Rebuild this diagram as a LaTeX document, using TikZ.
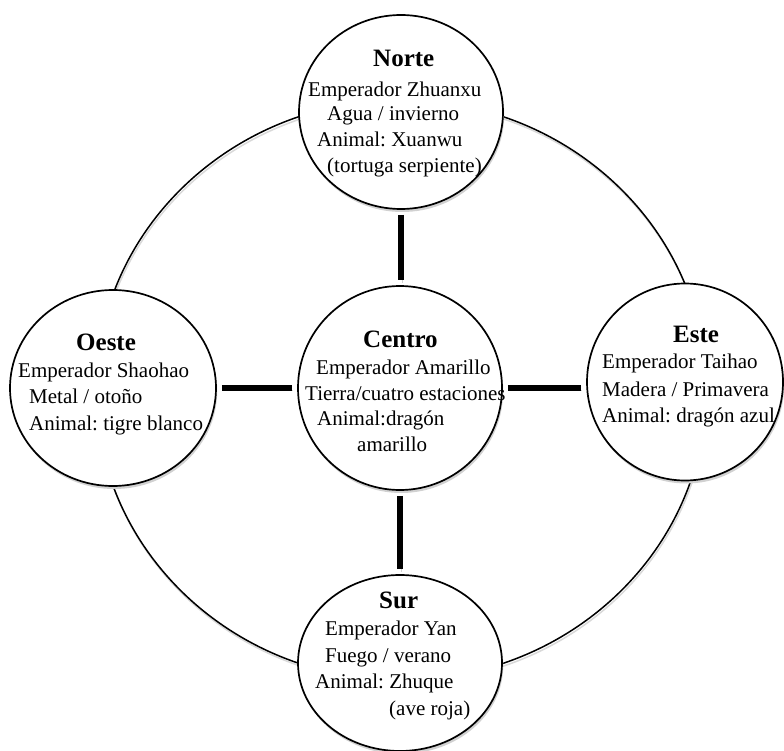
\documentclass[tikz,border=0pt]{standalone}
\usepackage{fontspec}
\setmainfont{Liberation Serif}
\usetikzlibrary{shapes.geometric}
\frenchspacing
\begin{document}
\begin{tikzpicture}[x=1pt,y=-1pt,
  disco/.style={ellipse, draw=black, line width=1.7pt, fill=white, inner sep=0pt,
    preaction={fill=black!18, transform canvas={xshift=1.2pt,yshift=-3pt}}},
  anillostyle/.style={ellipse, draw=black, line width=1.5pt, inner sep=0pt,
    preaction={draw=black!15, transform canvas={xshift=1pt,yshift=-2.5pt}}},
  barra/.style={line width=5.5pt, shorten <=5pt, shorten >=5pt,
    preaction={draw=black!18, transform canvas={xshift=1.2pt,yshift=-2.5pt}}},
  titulo/.style={anchor=base west, inner sep=0pt, font=\fontsize{25}{30}\selectfont\bfseries},
  texto/.style={anchor=base west, inner sep=0pt, font=\fontsize{21}{25}\selectfont}]
\useasboundingbox (0,0) rectangle (784,751);

\node[anillostyle, minimum width=610pt, minimum height=580pt] (anillo) at (401,390) {};

\node[disco, minimum width=204pt, minimum height=194pt] (norte) at (401,112) {};
\node[disco, minimum width=204pt, minimum height=204pt] (centro) at (400,388) {};
\node[disco, minimum width=206pt, minimum height=196pt] (oeste) at (113,388) {};
\node[disco, minimum width=196pt, minimum height=197pt] (este) at (685,382) {};
\node[disco, minimum width=204pt, minimum height=176pt] (sur) at (400,663) {};

\draw[barra] (norte.south) -- (norte.south |- centro.north);
\draw[barra] (centro.south) -- (centro.south |- sur.north);
\draw[barra] (oeste.east |- centro.west) -- (centro.west);
\draw[barra] (centro.east) -- (centro.east -| este.west);

\node[titulo] (nT) at (373,67) {Norte};
\node[texto] (n1) at (308,97) {Emperador Zhuanxu};
\node[texto] (n2) at (327,121) {Agua / invierno};
\node[texto] (n3) at (317,147) {Animal: Xuanwu};
\node[texto] (n4) at (327,173) {(tortuga serpiente)};

\node[titulo] (cT) at (363,347) {Centro};
\node[texto] (c1) at (316,374) {Emperador Amarillo};
\node[texto] (c2) at (305,400) {Tierra/cuatro estaciones};
\node[texto] (c3) at (317,425) {Animal:dragón};
\node[texto] (c4) at (357,451) {amarillo};

\node[titulo] (oT) at (76,350) {Oeste};
\node[texto] (o1) at (18,377) {Emperador Shaohao};
\node[texto] (o2) at (29,403) {Metal / otoño};
\node[texto] (o3) at (29,430) {Animal: tigre blanco};

\node[titulo] (eT) at (673,342) {Este};
\node[texto] (e1) at (602,368) {Emperador Taihao};
\node[texto] (e2) at (602,396) {Madera / Primavera};
\node[texto] (e3) at (602,422) {Animal: dragón azul};

\node[titulo] (sT) at (379,608) {Sur};
\node[texto] (s1) at (325,635) {Emperador Yan};
\node[texto] (s2) at (325,662) {Fuego / verano};
\node[texto] (s3) at (315,688) {Animal: Zhuque};
\node[texto] (s4) at (389,715) {(ave roja)};
\end{tikzpicture}
\end{document}
